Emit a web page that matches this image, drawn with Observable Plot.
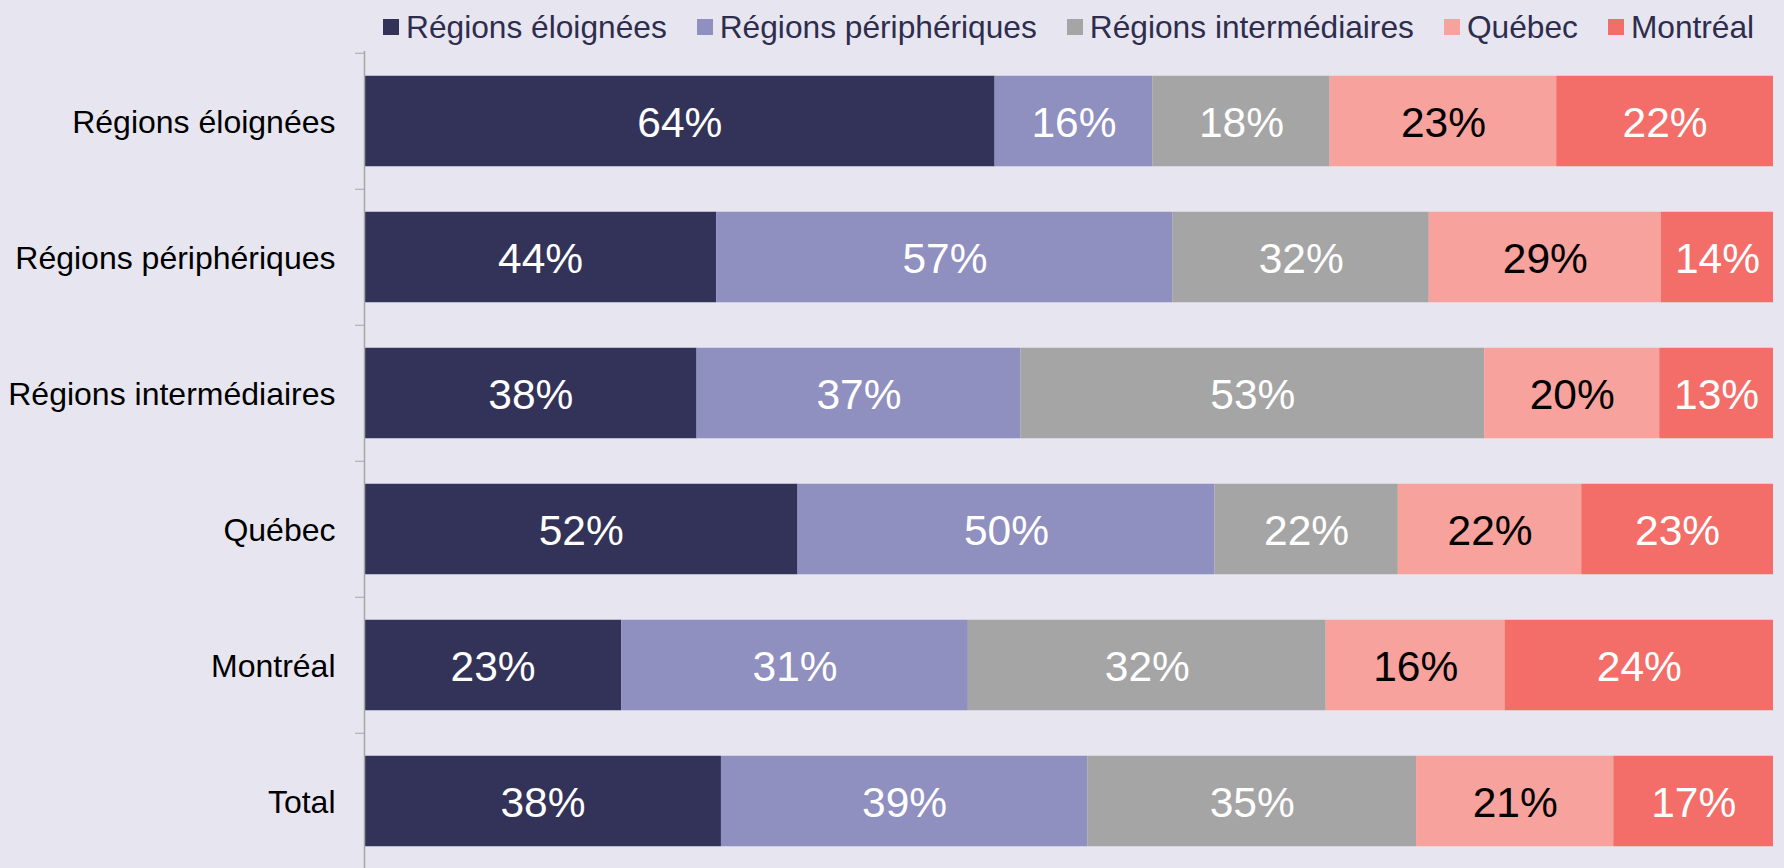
<!DOCTYPE html>
<html>
<head>
<meta charset="utf-8">
<script src="https://cdn.jsdelivr.net/npm/d3@7"></script>
<script src="https://cdn.jsdelivr.net/npm/@observablehq/plot@0.6"></script>
<style>
  html, body { margin: 0; padding: 0; background: #e7e6f0; overflow: hidden; }
  #wrap { position: relative; width: 1784px; height: 868px; font-family: "Liberation Sans", Arial, sans-serif; }
  #legend { position: absolute; left: 383px; top: 9px; width: max-content; height: 36px; display: flex; align-items: center; font-size: 31.7px; color: #2e2d4d; white-space: nowrap; }
  .item { display: flex; align-items: center; flex: 0 0 auto; margin-right: 30px; }
  .sw { width: 16px; height: 16px; margin-right: 7px; flex: 0 0 auto; }
  #chart { position: absolute; left: 0; top: 0; }
</style>
</head>
<body>
<div id="wrap"><div id="chart"></div><div id="legend"></div></div>
<script>
// Row categories (origin region)
const rows = ["Régions éloignées", "Régions périphériques", "Régions intermédiaires", "Québec", "Montréal", "Total"];
// Series (destination) names and colours
const seriesNames = ["Régions éloignées", "Régions périphériques", "Régions intermédiaires", "Québec", "Montréal"];
const seriesColors = ["#333359", "#8f8fc0", "#a5a5a5", "#f7a29c", "#f36e68"];
// Values per series, in row order (percent)
const regionsEloignees = [64, 44, 38, 52, 23, 38];
const regionsPeripheriques = [16, 57, 37, 50, 31, 39];
const regionsIntermediaires = [18, 32, 53, 22, 32, 35];
const quebec = [23, 29, 20, 22, 16, 21];
const montreal = [22, 14, 13, 23, 24, 17];

const seriesValues = [regionsEloignees, regionsPeripheriques, regionsIntermediaires, quebec, montreal];
const data = [];
rows.forEach((row, i) => {
  seriesNames.forEach((s, j) => data.push({row, series: s, value: seriesValues[j][i]}));
});

const stackOpts = {x: "value", y: "row", z: "series", offset: "normalize", order: seriesNames};

const chart = Plot.plot({
  width: 1784,
  height: 870,
  marginTop: 51,
  marginLeft: 364,
  marginRight: 11,
  marginBottom: 0,
  style: {background: "transparent", fontFamily: "Liberation Sans, Arial, sans-serif"},
  x: {axis: null, domain: [0, 1]},
  y: {domain: rows, padding: 0, axis: null},
  color: {domain: seriesNames, range: seriesColors},
  marks: [
    Plot.barX(data, Plot.stackX({...stackOpts, fill: "series", insetTop: 22.75, insetBottom: 22.75})),
    Plot.text(data, Plot.stackX({...stackOpts, text: d => d.series === "Québec" ? null : d.value + "%", fill: "white", fontSize: 42.5, dy: 2})),
    Plot.text(data, Plot.stackX({...stackOpts, text: d => d.series === "Québec" ? d.value + "%" : null, fill: "black", fontSize: 42.5, dy: 2})),
    Plot.ruleX([0], {stroke: "#a6a6a6", strokeWidth: 1.5}),
    Plot.axisY({tickSize: 9, tickFormat: () => "", dy: -68.25, stroke: "#a6a6a6", label: null}),
    Plot.axisY({tickSize: 0, tickPadding: 29, fontSize: 32, fill: "black", label: null, dy: 1})
  ]
});
document.getElementById("chart").appendChild(chart);

const legend = document.getElementById("legend");
seriesNames.forEach((s, j) => {
  const item = document.createElement("div");
  item.className = "item";
  const sw = document.createElement("div");
  sw.className = "sw";
  sw.style.background = seriesColors[j];
  const t = document.createElement("span");
  t.textContent = s;
  item.appendChild(sw);
  item.appendChild(t);
  legend.appendChild(item);
});
</script>
</body>
</html>
